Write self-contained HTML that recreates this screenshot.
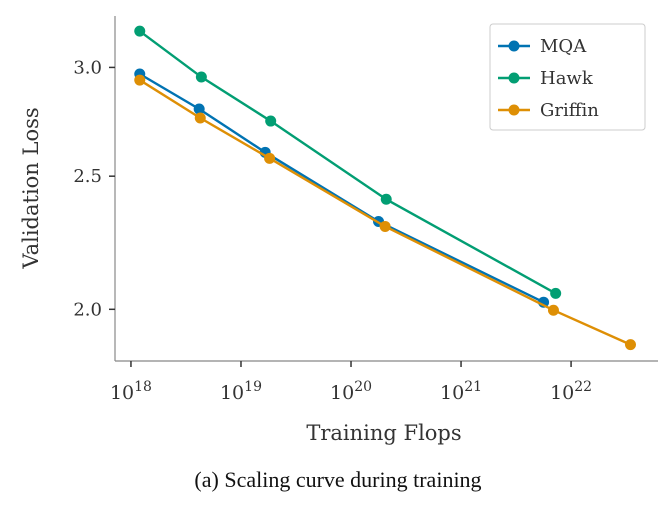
<!DOCTYPE html>
<html><head><meta charset="utf-8"><style>
body{margin:0;background:#fff;}
svg text{font-family:"DejaVu Serif","Liberation Serif",serif;fill:#333;}
</style></head><body>
<svg width="658" height="506" id="c"></svg>
<script>
const seriesNames=["MQA","Hawk","Griffin"];
const colors=["#0173b2","#029e73","#de8f05"];
const mqaX=[18.08,18.62,19.22,20.25,21.75];
const mqaY=[2.967,2.798,2.602,2.317,2.024];
const hawkX=[18.08,18.64,19.27,20.32,21.86];
const hawkY=[3.188,2.952,2.742,2.405,2.054];
const griffinX=[18.08,18.63,19.26,20.31,21.84,22.54];
const griffinY=[2.937,2.756,2.576,2.298,1.997,1.885];
const xTicks=[18,19,20,21,22];
const yTicks=[2.0,2.5,3.0];
const yTickLabels=["2.0","2.5","3.0"];

const svg=document.getElementById('c');
const NS="http://www.w3.org/2000/svg";
function mk(t,a,p){const e=document.createElementNS(NS,t);for(const k in a)e.setAttribute(k,a[k]);(p||svg).appendChild(e);return e;}
const L=115,R=658,T=16,B=361;
const xmin=17.855,xmax=22.79;
const ymin=Math.log10(1.834),ymax=Math.log10(3.27);
const sx=v=>L+(v-xmin)/(xmax-xmin)*(R-L);
const sy=v=>B-(Math.log10(v)-ymin)/(ymax-ymin)*(B-T);

let e=mk('line',{x1:L,y1:T,x2:L,y2:B,stroke:'#888','stroke-width':1.2});

e=mk('line',{x1:L,y1:B,x2:R,y2:B,stroke:'#888','stroke-width':1.2});

xTicks.forEach(t=>{const x=sx(t);
 let l=mk('line',{x1:x,y1:B,x2:x,y2:B+6,stroke:'#333','stroke-width':1.5});
 
 let tx=mk('text',{x:x,y:B+38,'font-size':19,'text-anchor':'middle'});
 
 tx.innerHTML='10<tspan dy="-8" font-size="14">'+t+'</tspan>';});
yTicks.forEach((t,i)=>{const y=sy(t);
 let l=mk('line',{x1:L-6,y1:y,x2:L,y2:y,stroke:'#333','stroke-width':1.5});
 
 let tx=mk('text',{x:L-13,y:y+6,'font-size':18,'text-anchor':'end'});
 
 tx.textContent=yTickLabels[i];});
e=mk('text',{x:384,y:440,'font-size':21,'text-anchor':'middle'});e.textContent='Training Flops';

e=mk('text',{x:38,y:188,'font-size':21,'text-anchor':'middle',transform:'rotate(-90 38 188)'});e.textContent='Validation Loss';

e=mk('text',{x:338,y:487,'font-size':22,'text-anchor':'middle',style:'font-family:"Liberation Serif",serif;fill:#111'});e.textContent='(a)  Scaling curve during training';


const xs=[mqaX,hawkX,griffinX],ys=[mqaY,hawkY,griffinY];
[0,2,1].forEach(s=>{
 const g=mk('g',{});
 const pts=xs[s].map((x,i)=>sx(x)+','+sy(ys[s][i])).join(' ');
 let p=mk('polyline',{points:pts,fill:'none',stroke:colors[s],'stroke-width':2.4},g);
 
 xs[s].forEach((x,i)=>{let c=mk('circle',{cx:sx(x),cy:sy(ys[s][i]),r:5.5,fill:colors[s]},g);
  });
});
const lg=mk('g',{});
mk('rect',{x:490,y:24,width:155,height:106,rx:3,fill:'#fff',stroke:'#ccc'},lg);
seriesNames.forEach((n,i)=>{const y=46+i*32;
 const g=mk('g',{},lg);
 mk('line',{x1:498,y1:y,x2:530,y2:y,stroke:colors[i],'stroke-width':2.4},g);
 mk('circle',{cx:514,cy:y,r:5.5,fill:colors[i]},g);
 const t=mk('text',{x:540,y:y+6,'font-size':18},g);t.textContent=n;});
</script>
</body></html>
